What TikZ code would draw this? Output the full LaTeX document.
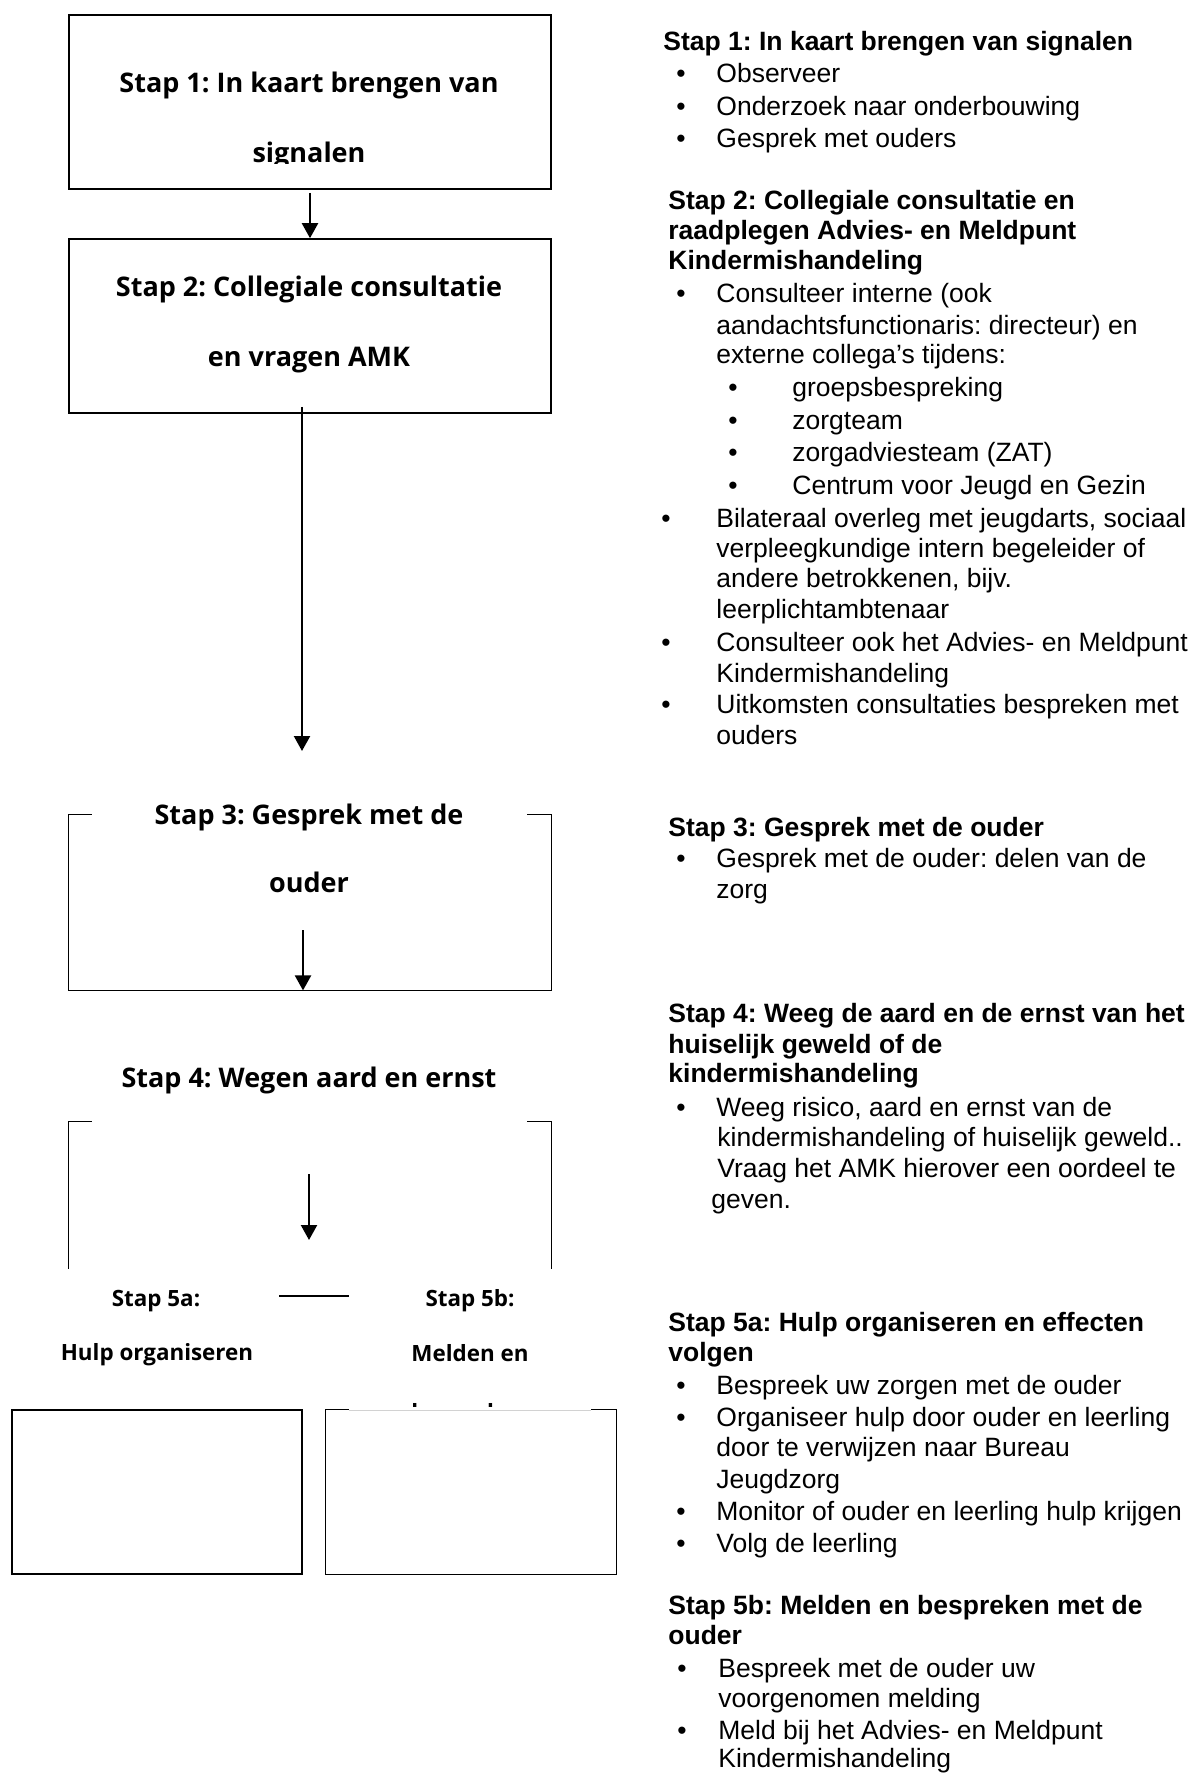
\documentclass[tikz,border=0pt]{standalone}
\usepackage{fontspec}
\setmainfont{Liberation Sans}
\newfontfamily\lfont{Open Sans}
\usetikzlibrary{arrows.meta}
\frenchspacing
\begin{document}
\frenchspacing
\begin{tikzpicture}[x=0.5pt,y=-0.5pt,
  box/.style={draw,line width=0.8pt,inner sep=0pt},
  frame/.style={inner sep=0pt},
  brk/.style={line width=0.8pt},
  arr/.style={line width=1.1pt,-{Triangle[width=8pt,length=7.5pt]}},
  lt/.style={font=\lfont\bfseries\fontsize{13.5}{16}\selectfont,inner sep=0pt,anchor=base},
  ls/.style={font=\lfont\bfseries\fontsize{11.2}{13}\selectfont,inner sep=0pt,anchor=base},
  rh/.style={font=\bfseries\fontsize{13.25}{16}\selectfont,inner sep=0pt,anchor=base west},
  rt/.style={font=\fontsize{13.25}{16}\selectfont,inner sep=0pt,anchor=base west},
  bul/.style={font=\fontsize{13.25}{16}\selectfont,inner sep=0pt,anchor=base},
]
\useasboundingbox (0,0) rectangle (1192,1773);

% ---------- left column ----------
\node[box,minimum width=241pt,minimum height=87pt] (b1) at (310,102) {};
\node[box,minimum width=241pt,minimum height=87pt] (b2) at (310,326) {};
\node[frame,minimum width=241pt,minimum height=87.5pt] (b3) at (310,902.5) {};
\node[frame,minimum width=241pt,minimum height=73.5pt] (b4) at (310,1195.5) {};
\node[box,minimum width=145pt,minimum height=82pt] (b5a) at (157,1492) {};
\node[frame,minimum width=145pt,minimum height=82pt] (b5b) at (471,1492) {};

\node[lt] (t1a) at (309,92.5) {Stap 1: In kaart brengen van};
\begin{scope}
  \clip (69,100) rectangle (551,163);
  \node[lt] (t1b) at (309,162) {signalen};
\end{scope}
\node[lt] (t2a) at (309,296.5) {Stap 2: Collegiale consultatie};
\node[lt] (t2b) at (309,366) {en vragen AMK};
\node[lt] (t3a) at (309,824.5) {Stap 3: Gesprek met de};
\node[lt] (t3b) at (309,892) {ouder};
\node[lt] (t4) at (309,1087.5) {Stap 4: Wegen aard en ernst};
\node[ls] (t5a1) at (156,1306) {Stap 5a:};
\node[ls] (t5a2) at (157,1360) {Hulp organiseren};
\node[ls] (t5b1) at (470,1306) {Stap 5b:};
\node[ls] (t5b2) at (470,1361) {Melden en};
\begin{scope}
  \clip (349,1380) rectangle (591,1406);
  \node[ls] (t5b3) at (470,1420) {bespreken};
\end{scope}

% box 3 (open top)
\draw[brk] ([xshift=11.5pt]b3.north west) -- (b3.north west) -- (b3.south west)
  -- (b3.south east) -- (b3.north east) -- ([xshift=-12pt]b3.north east);
% box 4 (open top and bottom)
\draw[brk] ([xshift=11.5pt]b4.north west) -- (b4.north west) -- (b4.south west);
\draw[brk] ([xshift=-12pt]b4.north east) -- (b4.north east) -- (b4.south east);
% box 5b (top partly covered)
\draw[brk] ([xshift=11.5pt]b5b.north west) -- (b5b.north west) -- (b5b.south west)
  -- (b5b.south east) -- (b5b.north east) -- ([xshift=-12.5pt]b5b.north east);
\draw[gray!35,line width=0.4pt] ([xshift=11.5pt,yshift=-0.5pt]b5b.north west)
  -- ([xshift=-12.5pt,yshift=-0.5pt]b5b.north east);

% connectors
\draw[arr] ([yshift=-1.5pt]b1.south) -- (b2.north);
\coordinate (a2e) at (302,751);
\draw[arr] ([xshift=-4pt,yshift=3.5pt]b2.south) -- (a2e);
\coordinate (a3s) at (303,930);
\draw[arr] (a3s) -- (a3s |- b3.south);
\coordinate (a4s) at (309,1174);
\coordinate (a4e) at (309,1240);
\draw[arr] (a4s) -- (a4e);
\coordinate (l5a) at (279,1296);
\coordinate (l5b) at (349,1296);
\draw[brk] (l5a) -- (l5b);

% ---------- right column ----------
\node[rh] (r1) at (663,50) {Stap 1: In kaart brengen van signalen};
\node[bul] (u2) at (681,82) {•};  \node[rt] (r2) at (716,82) {Observeer};
\node[bul] (u3) at (681,115) {•}; \node[rt] (r3) at (716,115) {Onderzoek naar onderbouwing};
\node[bul] (u4) at (681,147) {•}; \node[rt] (r4) at (716,147) {Gesprek met ouders};

\node[rh] (r5) at (668,209) {Stap 2: Collegiale consultatie en};
\node[rh] (r6) at (668,239) {raadplegen Advies- en Meldpunt};
\node[rh] (r7) at (668,269) {Kindermishandeling};
\node[bul] (u8) at (681,302) {•}; \node[rt] (r8) at (716,302) {Consulteer interne (ook};
\node[rt] (r9) at (716,334) {aandachtsfunctionaris: directeur) en};
\node[rt] (r10) at (716,363) {externe collega’s tijdens:};
\node[bul] (u11) at (733,396) {•}; \node[rt] (r11) at (792,396) {groepsbespreking};
\node[bul] (u12) at (733,429) {•}; \node[rt] (r12) at (792,429) {zorgteam};
\node[bul] (u13) at (733,461) {•}; \node[rt] (r13) at (792,461) {zorgadviesteam (ZAT)};
\node[bul] (u14) at (733,494) {•}; \node[rt] (r14) at (792,494) {Centrum voor Jeugd en Gezin};
\node[bul] (u15) at (666,527) {•}; \node[rt] (r15) at (716,527) {Bilateraal overleg met jeugdarts, sociaal};
\node[rt] (r16) at (716,557) {verpleegkundige intern begeleider of};
\node[rt] (r17) at (716,587) {andere betrokkenen, bijv.};
\node[rt] (r18) at (716,618) {leerplichtambtenaar};
\node[bul] (u19) at (666,651) {•}; \node[rt] (r19) at (716,651) {Consulteer ook het Advies- en Meldpunt};
\node[rt] (r20) at (716,682) {Kindermishandeling};
\node[bul] (u21) at (666,713) {•}; \node[rt] (r21) at (716,713) {Uitkomsten consultaties bespreken met};
\node[rt] (r22) at (716,744) {ouders};

\node[rh] (r23) at (668,836) {Stap 3: Gesprek met de ouder};
\node[bul] (u24) at (681,867) {•}; \node[rt] (r24) at (716,867) {Gesprek met de ouder: delen van de};
\node[rt] (r25) at (716,898) {zorg};

\node[rh] (r26) at (668,1022) {Stap 4: Weeg de aard en de ernst van het};
\node[rh] (r27) at (668,1053) {huiselijk geweld of de};
\node[rh] (r28) at (668,1082) {kindermishandeling};
\node[bul] (u29) at (681,1116) {•}; \node[rt] (r29) at (716,1116) {Weeg risico, aard en ernst van de};
\node[rt] (r30) at (717,1146) {kindermishandeling of huiselijk geweld..};
\node[rt] (r31) at (717,1177) {Vraag het AMK hierover een oordeel te};
\node[rt] (r32) at (711,1208) {geven.};

\node[rh] (r33) at (668,1331) {Stap 5a: Hulp organiseren en effecten};
\node[rh] (r34) at (668,1361) {volgen};
\node[bul] (u35) at (681,1394) {•}; \node[rt] (r35) at (716,1394) {Bespreek uw zorgen met de ouder};
\node[bul] (u36) at (681,1426) {•}; \node[rt] (r36) at (716,1426) {Organiseer hulp door ouder en leerling};
\node[rt] (r37) at (716,1456) {door te verwijzen naar Bureau};
\node[rt] (r38) at (716,1488) {Jeugdzorg};
\node[bul] (u39) at (681,1520) {•}; \node[rt] (r39) at (716,1520) {Monitor of ouder en leerling hulp krijgen};
\node[bul] (u40) at (681,1552) {•}; \node[rt] (r40) at (716,1552) {Volg de leerling};

\node[rh] (r41) at (668,1614) {Stap 5b: Melden en bespreken met de};
\node[rh] (r42) at (668,1644) {ouder};
\node[bul] (u43) at (682,1677) {•}; \node[rt] (r43) at (718,1677) {Bespreek met de ouder uw};
\node[rt] (r44) at (718,1707) {voorgenomen melding};
\node[bul] (u45) at (682,1739) {•}; \node[rt] (r45) at (718,1739) {Meld bij het Advies- en Meldpunt};
\node[rt] (r46) at (718,1767) {Kindermishandeling};
\end{tikzpicture}
\end{document}
